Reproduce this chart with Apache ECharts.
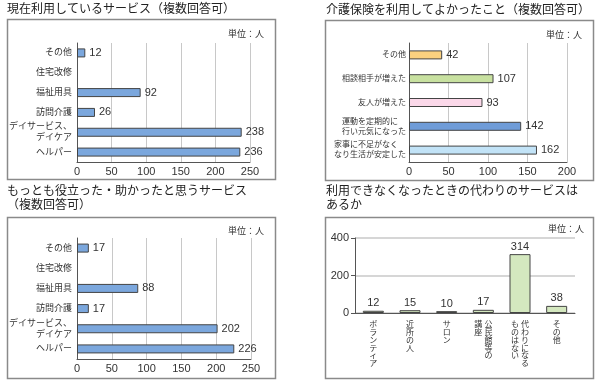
<!DOCTYPE html>
<html><head><meta charset="utf-8">
<script src="https://cdn.jsdelivr.net/npm/echarts@6/dist/echarts.min.js"></script>
<style>html,body{margin:0;padding:0;background:#fff}#c{width:600px;height:381px}</style>
</head><body><div id="c"></div>
<script>
// ---- data ----
const title1 = '現在利用しているサービス（複数回答可）';
const title2 = '介護保険を利用してよかったこと（複数回答可）';
const title3 = 'もっとも役立った・助かったと思うサービス\n（複数回答可）';
const title4 = '利用できなくなったときの代わりのサービスは\nあるか';
const unitLabel = '単位：人';

const cats1 = ['その他', '住宅改修', '福祉用具', '訪問介護', 'デイサービス、\nデイケア', 'ヘルパー'];
const vals1 = [12, null, 92, 26, 238, 236];

const cats2 = ['その他', '相談相手が増えた', '友人が増えた', '運動を定期的に\n行い元気になった', '家事に不足がなく\nなり生活が安定した'];
const vals2 = [42, 107, 93, 142, 162];
const colors2 = ['#fbd17f', '#c8e1a0', '#fbd8e9', '#6f9cd8', '#c2e3f7'];

const cats3 = ['その他', '住宅改修', '福祉用具', '訪問介護', 'デイサービス、\nデイケア', 'ヘルパー'];
const vals3 = [17, null, 88, 17, 202, 226];

const cats4 = ['ボランティア', '近所の人', 'サロン', '公民館等の\n講座', '代わりになる\nものはない', 'その他'];
const vals4 = [12, 15, 10, 17, 314, 38];

const xTicks13 = { min: 0, max: 250, interval: 50 };
const xTicks2 = { min: 0, max: 200, interval: 50 };
const yTicks4 = { min: 0, max: 400, interval: 200 };

// ---- helpers ----
const FONT = '"Liberation Sans", "Noto Sans CJK JP", sans-serif';
const TXT = '#333';
const BLUE = '#7ba7dd';
const GREEN4 = '#d4e8bf';

// pad lines so that a right-aligned block is left-aligned internally
function leftBlock(s) {
  const lines = s.split('\n');
  const n = Math.max(...lines.map(l => l.length));
  return lines.map(l => l + '\u3000'.repeat(n - l.length)).join('\n');
}
// vertical writing: columns (right to left) separated by \n
function vertical(s) {
  const cols = s.split('\n');
  const n = Math.max(...cols.map(c => c.length));
  const rows = [];
  for (let i = 0; i < n; i++) {
    const parts = [];
    for (let c = cols.length - 1; c >= 0; c--) parts.push(cols[c][i] || '\u3000');
    rows.push(parts.join(' '));
  }
  return rows.join('\n');
}

const grids = [
  { left: 77, top: 43, width: 173, height: 119 },
  { left: 409, top: 43, width: 158, height: 119 },
  { left: 77, top: 238, width: 174, height: 121 },
  { left: 355, top: 238, width: 220, height: 75 }
].map(g => Object.assign({ outerBoundsMode: 'none', containLabel: false }, g));

function valueXAxis(idx, t) {
  return {
    type: 'value', gridIndex: idx, min: t.min, max: t.max, interval: t.interval,
    axisLine: { show: true, lineStyle: { color: '#555', width: 1 } },
    axisTick: { show: false },
    splitLine: { show: true, lineStyle: { color: '#c8c8c8', width: 1 } },
    axisLabel: { color: TXT, fontSize: 11, fontFamily: FONT, margin: 4 }
  };
}
function catYAxis(idx, cats, margin, fontSize, fmt) {
  return {
    type: 'category', gridIndex: idx, data: cats, inverse: true,
    axisLine: { show: true, lineStyle: { color: '#555', width: 1 } },
    axisTick: { show: false },
    axisLabel: { color: TXT, fontSize: fontSize, fontFamily: FONT, margin: margin, lineHeight: fontSize + 2, formatter: fmt, interval: 0 }
  };
}
const valLabel = { show: true, position: 'right', distance: 4, color: TXT, fontSize: 11, fontFamily: FONT };

const titleStyle = { color: '#222', fontSize: 12, fontWeight: 'normal', fontFamily: FONT, lineHeight: 14 };
const unitStyle = { color: TXT, fontSize: 9, fontWeight: 'normal', fontFamily: FONT };
const boxStyle = { fill: 'none', stroke: '#8a8a8a', lineWidth: 1.5 };

const option = {
  animation: false,
  backgroundColor: '#fff',
  title: [
    { text: title1, left: 7, top: 3, padding: 0, textStyle: titleStyle },
    { text: title2, left: 326, top: 4, padding: 0, textStyle: titleStyle },
    { text: title3, left: 7, top: 185, padding: 0, textStyle: titleStyle },
    { text: title4, left: 326, top: 185, padding: 0, textStyle: titleStyle },
    { text: unitLabel, left: 228, top: 30, padding: 0, textStyle: unitStyle },
    { text: unitLabel, left: 546, top: 31, padding: 0, textStyle: unitStyle },
    { text: unitLabel, left: 228, top: 227, padding: 0, textStyle: unitStyle },
    { text: unitLabel, left: 548, top: 225, padding: 0, textStyle: unitStyle }
  ],
  graphic: [
    { type: 'rect', shape: { x: 7.5, y: 19.5, width: 268, height: 160 }, style: boxStyle, silent: true },
    { type: 'rect', shape: { x: 325.5, y: 20.5, width: 268, height: 160 }, style: boxStyle, silent: true },
    { type: 'rect', shape: { x: 7.5, y: 217.5, width: 268, height: 161 }, style: boxStyle, silent: true },
    { type: 'rect', shape: { x: 325.5, y: 217.5, width: 268, height: 161 }, style: boxStyle, silent: true }
  ],
  grid: grids,
  xAxis: [
    valueXAxis(0, xTicks13),
    valueXAxis(1, xTicks2),
    valueXAxis(2, xTicks13),
    {
      type: 'category', gridIndex: 3, data: cats4,
      axisLine: { show: true, lineStyle: { color: '#555', width: 1 } },
      axisTick: { show: false },
      axisLabel: { color: TXT, fontSize: 8, fontFamily: FONT, lineHeight: 7.8, margin: 8, interval: 0, verticalAlign: 'top', formatter: vertical }
    }
  ],
  yAxis: [
    catYAxis(0, cats1, 5, 9),
    catYAxis(1, cats2, 3, 8, leftBlock),
    catYAxis(2, cats3, 5, 9),
    {
      type: 'value', gridIndex: 3, min: yTicks4.min, max: yTicks4.max, interval: yTicks4.interval,
      axisLine: { show: true, lineStyle: { color: '#555', width: 1 } },
      axisTick: { show: true, length: 4, lineStyle: { color: '#555' } },
      splitLine: { show: true, lineStyle: { color: '#c8c8c8', width: 1.5 } },
      axisLabel: { color: TXT, fontSize: 11, fontFamily: FONT, margin: 6 }
    }
  ],
  series: [
    { type: 'bar', xAxisIndex: 0, yAxisIndex: 0, data: vals1, barWidth: 9,
      itemStyle: { color: BLUE, borderColor: '#444', borderWidth: 1 }, label: valLabel },
    { type: 'bar', xAxisIndex: 1, yAxisIndex: 1, barWidth: 9,
      data: vals2.map((v, i) => ({ value: v, itemStyle: { color: colors2[i] } })),
      itemStyle: { borderColor: '#444', borderWidth: 1 }, label: valLabel },
    { type: 'bar', xAxisIndex: 2, yAxisIndex: 2, data: vals3, barWidth: 9,
      itemStyle: { color: BLUE, borderColor: '#444', borderWidth: 1 }, label: valLabel },
    { type: 'bar', xAxisIndex: 3, yAxisIndex: 3, data: vals4, barWidth: 21,
      itemStyle: { color: GREEN4, borderColor: '#444', borderWidth: 1 },
      label: { show: true, position: 'top', distance: 2, color: TXT, fontSize: 11, fontFamily: FONT } }
  ]
};
const chart = echarts.init(document.getElementById('c'), null, { renderer: 'canvas' });
chart.setOption(option);
</script>
</body></html>
